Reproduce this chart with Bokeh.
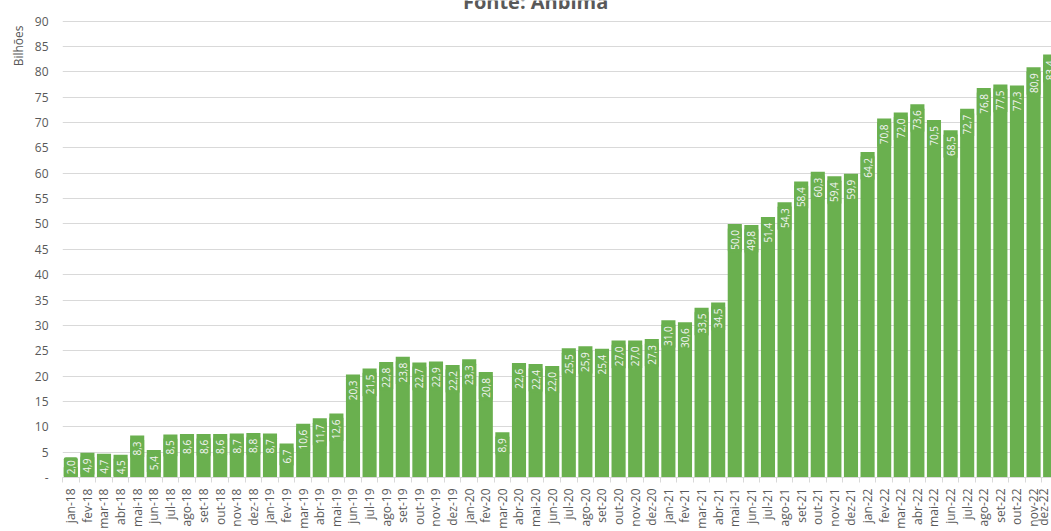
import numpy as np
from bokeh.plotting import figure
from bokeh.models import ColumnDataSource, Range1d, FixedTicker, Label, Title
from bokeh.core.properties import value
from bokeh.embed import file_html
from bokeh.resources import INLINE

months = ["jan", "fev", "mar", "abr", "mai", "jun", "jul", "ago", "set", "out", "nov", "dez"]
years = ["18", "19", "20", "21", "22"]
categories = [f"{m}-{y}" for y in years for m in months]

values = [2.0, 4.9, 4.7, 4.5, 8.3, 5.4, 8.5, 8.6, 8.6, 8.6, 8.7, 8.8,
          8.7, 6.7, 10.6, 11.7, 12.6, 20.3, 21.5, 22.8, 23.8, 22.7, 22.9, 22.2,
          23.3, 20.8, 8.9, 22.6, 22.4, 22.0, 25.5, 25.9, 25.4, 27.0, 27.0, 27.3,
          31.0, 30.6, 33.5, 34.5, 50.0, 49.8, 51.4, 54.3, 58.4, 60.3, 59.4, 59.9,
          64.2, 70.8, 72.0, 73.6, 70.5, 68.5, 72.7, 76.8, 77.5, 77.3, 80.9, 83.4]

yticks = list(range(0, 95, 5))

GREEN = "#6AB04F"
GREY = "#595959"
GRID = "#D9D9D9"
FONT = "Open Sans"

x = list(range(len(categories)))
labels = [f"{v:.1f}".replace(".", ",") for v in values]
label_y = [max(v, 4.6) for v in values]

src = ColumnDataSource(dict(x=x, top=values, label=labels, ly=label_y))

# frame spans the full height above the axis; 90 sits 21px below the top
p = figure(width=1051, height=531, output_backend="svg", toolbar_location=None,
           x_range=Range1d(-0.5, 59.08), y_range=Range1d(0, 90 * 485 / 464),
           min_border_left=62, min_border_right=0, min_border_top=0, min_border_bottom=46)
p.outline_line_color = None
p.background_fill_color = "white"
p.border_fill_color = "white"

p.vbar(x="x", top="top", bottom=0, width=0.85, source=src, fill_color=GREEN, line_color=None)

p.text(x="x", y="ly", text="label", source=src, angle=np.pi / 2,
       text_align="right", text_baseline="middle", text_color="#F4F4F4",
       text_font=value(FONT), text_font_size="10px", y_offset=3,
       background_fill_color=GREEN, padding=3, border_radius=2)

# y axis
p.yaxis.ticker = FixedTicker(ticks=yticks)
p.yaxis.major_label_overrides = {0: "-"}
p.yaxis.axis_line_color = None
p.yaxis.major_tick_line_color = None
p.yaxis.minor_tick_line_color = None
p.yaxis.major_tick_out = 0
p.yaxis.major_label_standoff = 14
p.yaxis.major_label_text_font = FONT
p.yaxis.major_label_text_font_size = "12px"
p.yaxis.major_label_text_color = GREY

p.ygrid.ticker = FixedTicker(ticks=yticks)
p.ygrid.grid_line_color = GRID
p.xgrid.grid_line_color = None

# x axis
p.xaxis.ticker = FixedTicker(ticks=x, minor_ticks=[i - 0.5 for i in x] + [len(x) - 0.5])
p.xaxis.major_label_overrides = {i: c for i, c in enumerate(categories)}
p.xaxis.major_label_orientation = np.pi / 2
p.xaxis.axis_line_color = GRID
p.xaxis.major_tick_line_color = None
p.xaxis.minor_tick_line_color = GRID
p.xaxis.minor_tick_out = 5
p.xaxis.minor_tick_in = 0
p.xaxis.major_tick_out = 0
p.xaxis.major_tick_in = 0
p.xaxis.major_label_standoff = 6
p.xaxis.major_label_text_font = FONT
p.xaxis.major_label_text_font_size = "12px"
p.xaxis.major_label_text_color = GREY

p.add_layout(Title(text="Bilhões", align="right", text_font=FONT, text_font_size="12px",
                   text_font_style="normal", text_color=GREY, standoff=10, offset=25), "left")
p.add_layout(Label(x=28.0, y=93.9, text="Fonte: Anbima",
                   text_align="center", text_baseline="alphabetic",
                   text_font=FONT, text_font_size="20px", text_font_style="bold",
                   text_color=GREY))

open("out.html", "w").write(file_html(p, INLINE))
